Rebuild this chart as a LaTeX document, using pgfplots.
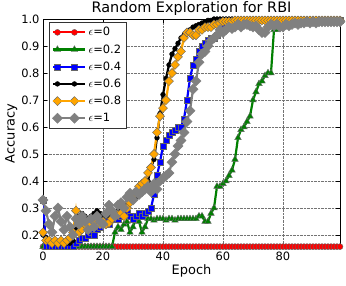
\documentclass[border=0pt]{standalone}
\usepackage{fontspec}
\setmainfont{DejaVu Sans}
\usepackage{pgfplots}
\usepackage{pgfplotstable}
\pgfplotsset{compat=1.18}
\definecolor{mgreen}{rgb}{0,0.5,0}
\definecolor{morange}{rgb}{1,0.647,0}
\definecolor{mgray}{rgb}{0.5,0.5,0.5}
\pgfplotstableread{
x r g b k o gr
0 0.157 0.157 0.33 0.20 0.21 0.33
1 0.157 0.157 0.157 0.19 0.18 0.29
2 0.157 0.157 0.157 0.18 0.18 0.24
3 0.157 0.157 0.157 0.17 0.17 0.21
4 0.157 0.157 0.157 0.17 0.18 0.27
5 0.157 0.157 0.157 0.17 0.17 0.30
6 0.157 0.157 0.157 0.17 0.18 0.25
7 0.157 0.157 0.157 0.17 0.17 0.22
8 0.157 0.157 0.157 0.17 0.18 0.27
9 0.157 0.157 0.157 0.17 0.19 0.23
10 0.157 0.157 0.157 0.18 0.21 0.20
11 0.157 0.157 0.17 0.22 0.29 0.26
12 0.157 0.157 0.18 0.27 0.21 0.24
13 0.157 0.157 0.19 0.28 0.22 0.27
14 0.157 0.157 0.19 0.27 0.24 0.25
15 0.157 0.157 0.20 0.26 0.25 0.22
16 0.157 0.157 0.21 0.27 0.24 0.26
17 0.157 0.157 0.20 0.28 0.25 0.23
18 0.157 0.157 0.22 0.29 0.26 0.27
19 0.157 0.157 0.23 0.28 0.24 0.25
20 0.157 0.157 0.24 0.27 0.25 0.24
21 0.157 0.157 0.25 0.27 0.24 0.28
22 0.157 0.157 0.24 0.27 0.245 0.31
23 0.157 0.157 0.26 0.28 0.26 0.29
24 0.157 0.21 0.27 0.28 0.27 0.27
25 0.157 0.23 0.26 0.29 0.275 0.31
26 0.157 0.22 0.27 0.29 0.28 0.32
27 0.157 0.24 0.28 0.30 0.27 0.30
28 0.157 0.25 0.28 0.31 0.30 0.34
29 0.157 0.21 0.27 0.32 0.32 0.355
30 0.157 0.23 0.26 0.33 0.345 0.33
31 0.157 0.26 0.27 0.34 0.36 0.36
32 0.157 0.25 0.28 0.35 0.38 0.35
33 0.157 0.21 0.27 0.37 0.39 0.36
34 0.157 0.23 0.28 0.38 0.40 0.37
35 0.157 0.26 0.29 0.40 0.43 0.38
36 0.157 0.26 0.30 0.45 0.45 0.36
37 0.157 0.255 0.35 0.48 0.50 0.39
38 0.157 0.26 0.42 0.56 0.58 0.37
39 0.157 0.26 0.47 0.65 0.64 0.40
40 0.157 0.26 0.53 0.72 0.67 0.41
41 0.157 0.255 0.55 0.78 0.70 0.42
42 0.157 0.26 0.57 0.83 0.77 0.43
43 0.157 0.26 0.58 0.87 0.80 0.47
44 0.157 0.255 0.59 0.89 0.83 0.50
45 0.157 0.26 0.60 0.91 0.86 0.53
46 0.157 0.26 0.60 0.93 0.88 0.55
47 0.157 0.26 0.63 0.94 0.93 0.58
48 0.157 0.26 0.70 0.95 0.95 0.62
49 0.157 0.26 0.78 0.96 0.95 0.66
50 0.157 0.26 0.83 0.97 0.94 0.74
51 0.157 0.26 0.85 0.975 0.94 0.77
52 0.157 0.27 0.88 0.98 0.96 0.84
53 0.157 0.27 0.90 0.985 0.96 0.87
54 0.157 0.25 0.91 0.99 0.97 0.88
55 0.157 0.25 0.92 0.995 0.97 0.90
56 0.157 0.28 0.93 0.995 0.97 0.92
57 0.157 0.30 0.93 1.0 0.98 0.93
58 0.157 0.38 0.94 1.0 0.98 0.94
59 0.157 0.38 0.96 1.0 0.985 0.96
60 0.157 0.39 0.97 1.0 0.99 0.95
61 0.157 0.40 0.98 1.0 0.99 0.96
62 0.157 0.42 0.985 1.0 0.99 0.97
63 0.157 0.44 0.99 1.0 0.99 0.965
64 0.157 0.48 0.99 1.0 0.995 0.97
65 0.157 0.56 0.99 1.0 0.995 0.98
66 0.157 0.59 0.99 1.0 0.995 0.97
67 0.157 0.60 0.995 1.0 0.995 0.98
68 0.157 0.62 0.995 1.0 0.995 0.98
69 0.157 0.64 0.995 1.0 0.995 0.975
70 0.157 0.70 0.995 1.0 0.995 0.97
71 0.157 0.73 0.995 1.0 0.995 0.975
72 0.157 0.76 0.995 1.0 0.995 0.96
73 0.157 0.77 0.995 1.0 0.995 0.95
74 0.157 0.79 0.995 1.0 0.995 0.95
75 0.157 0.80 0.995 1.0 0.995 0.97
76 0.157 0.80 0.995 1.0 0.995 0.98
77 0.157 0.96 0.995 1.0 0.995 0.975
78 0.157 0.96 0.995 1.0 0.995 0.98
79 0.157 0.98 0.995 1.0 0.995 0.97
80 0.157 0.985 0.995 1.0 0.995 0.97
81 0.157 0.99 0.995 1.0 0.995 0.98
82 0.157 0.99 0.995 1.0 0.995 0.975
83 0.157 0.99 0.995 1.0 0.995 0.98
84 0.157 0.99 0.995 1.0 0.995 0.985
85 0.157 0.99 0.995 1.0 0.995 0.98
86 0.157 0.99 0.995 1.0 0.995 0.985
87 0.157 0.99 0.995 1.0 0.995 0.985
88 0.157 0.99 0.995 1.0 0.995 0.99
89 0.157 0.99 0.995 1.0 0.995 0.985
90 0.157 0.99 0.995 1.0 0.995 0.99
91 0.157 0.99 0.995 1.0 0.995 0.985
92 0.157 0.99 0.995 1.0 0.995 0.99
93 0.157 0.99 0.995 1.0 0.995 0.99
94 0.157 0.99 0.995 1.0 0.995 0.99
95 0.157 0.99 0.995 1.0 0.995 0.99
96 0.157 0.99 0.995 1.0 0.995 0.99
97 0.157 0.99 0.995 1.0 0.995 0.99
98 0.157 0.99 0.995 1.0 0.995 0.99
99 0.157 0.99 0.995 1.0 0.995 0.99
}\data
\begin{document}
\begin{tikzpicture}
\useasboundingbox (-43bp,-38bp) rectangle (303bp,248bp);
\begin{axis}[
  scale only axis, width=297bp, height=229bp,
  xmin=0, xmax=99, ymin=0.152, ymax=1.0,
  xtick={0,20,40,60,80},
  ytick={0.2,0.3,0.4,0.5,0.6,0.7,0.8,0.9,1.0},
  yticklabel style={/pgf/number format/.cd, fixed, fixed zerofill, precision=1},
  /pgf/number format/assume math mode=true,
  tick align=inside, major tick length=4bp,
  tick style={black, line width=0.6pt},
  ticklabel style={font=\fontsize{11.5}{13}\selectfont},
  grid=major, grid style={densely dotted, black!55, line width=0.6pt},
  axis line style={line width=0.8pt},
  title={Random Exploration for RBI},
  title style={font=\fontsize{14.5}{16}\selectfont, yshift=-6bp},
  xlabel={Epoch}, ylabel={Accuracy},
  xlabel style={font=\fontsize{13}{15}\selectfont, yshift=2bp},
  ylabel style={font=\fontsize{13}{15}\selectfont, yshift=-3bp},
  legend style={at={(0.02,0.987)}, anchor=north west, draw=black!80, line width=0.8pt,
    font=\fontsize{11.5}{13}\selectfont, row sep=3.2bp, inner xsep=3bp, inner ysep=3bp},
  legend cell align=left,
  legend image code/.code={\draw[#1] plot coordinates {(0bp,0bp) (17bp,0bp)}; \path (-4bp,0bp) -- (28bp,0bp);},
  every axis plot/.append style={line width=2.2pt},
]
\addplot[red, mark=*, mark size=3bp, mark options={fill=red, draw=black!60, line width=0.4pt}] table[x=x,y=r] {\data};
\addlegendentry{$\epsilon$=0}
\addplot[mgreen, mark=triangle*, mark size=3.8bp, mark options={fill=mgreen, draw=black!60, line width=0.4pt}] table[x=x,y=g] {\data};
\addlegendentry{$\epsilon$=0.2}
\addplot[blue, mark=square*, mark size=3bp, mark options={fill=blue, draw=black!60, line width=0.4pt}] table[x=x,y=b] {\data};
\addlegendentry{$\epsilon$=0.4}
\addplot[black, mark=*, mark size=2.4bp, mark options={fill=black, draw=black, line width=0.4pt}] table[x=x,y=k] {\data};
\addlegendentry{$\epsilon$=0.6}
\addplot[morange, mark=square*, mark size=3.2bp, mark options={rotate=45, fill=morange, draw=black!60, line width=0.4pt}] table[x=x,y=o] {\data};
\addlegendentry{$\epsilon$=0.8}
\addplot[mgray, mark=square*, mark size=3.6bp, mark options={rotate=45, fill=mgray, draw=black!50, line width=0.4pt}] table[x=x,y=gr] {\data};
\addlegendentry{$\epsilon$=1}
\end{axis}
\end{tikzpicture}
\end{document}
